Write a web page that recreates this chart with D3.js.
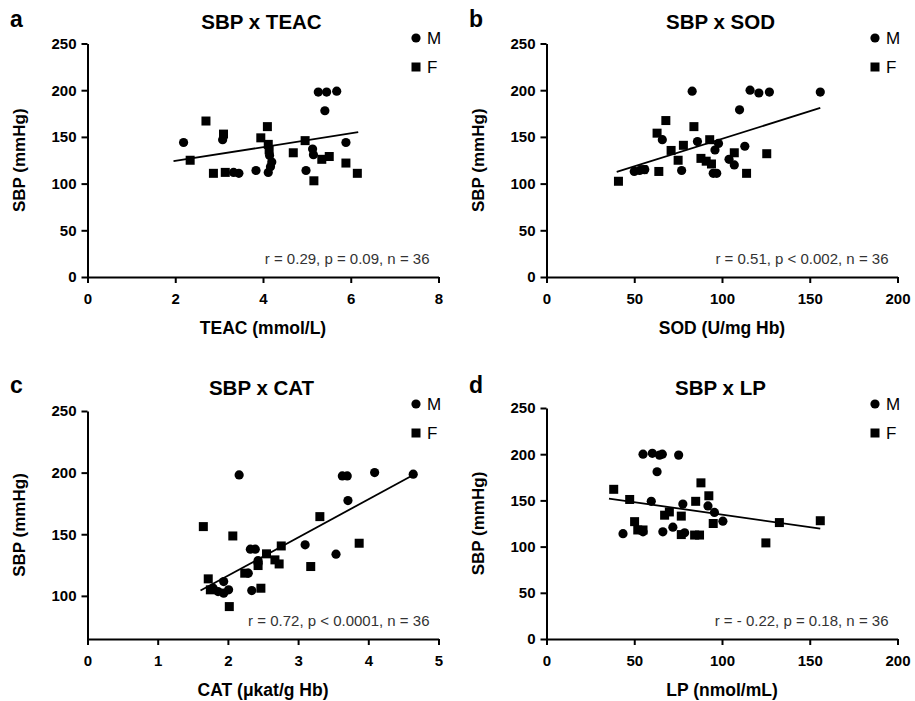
<!DOCTYPE html>
<html><head><meta charset="utf-8">
<script src="https://cdn.jsdelivr.net/npm/d3@7"></script>
<style>
html,body{margin:0;padding:0;background:#fff;}
svg{display:block;font-family:"Liberation Sans",Arial,Helvetica,sans-serif;}
</style></head>
<body><svg id="chart" width="915" height="701"></svg>
<script>
// ---- Data ----
const teacMale = [[2.19,144],[3.08,147],[3.33,112],[3.45,111],[3.84,114],[4.12,112],[4.17,118],[4.2,123],[4.15,130],[4.98,114],[5.13,137],[5.15,131],[5.26,198],[5.45,198],[5.68,199],[5.41,178],[5.89,144]];
const teacFemale = [[2.34,125],[2.7,167],[2.87,111],[3.14,112],[3.1,153],[3.95,149],[4.1,161],[4.12,142],[4.14,136],[4.69,133],[4.96,146],[5.16,103],[5.34,126],[5.51,129],[5.89,122],[6.15,111]];
const teacFit = [[1.96,124],[6.17,155]];

const sodMale = [[50,113],[53,114],[56,115],[66,147],[77,114],[83,199],[86,145],[95,111],[97,111],[96,136],[98,143],[104,126],[107,120],[110,179],[113,140],[116,200],[121,197],[127,198],[156,198]];
const sodFemale = [[41,102.5],[55,115],[64,113],[68,167.5],[63,154],[71,135.5],[75,125],[78,141],[84,161],[93,147],[88,127],[91,124],[94,121],[107,133],[114,111],[125.5,132]];
const sodFit = [[40,112.5],[156,181]];

const catMale = [[2.16,198.1],[3.63,197.3],[3.70,197.3],[4.09,200],[4.64,198.7],[3.71,177.3],[3.10,141.4],[3.54,133.8],[2.32,137.9],[2.39,137.9],[2.43,128.6],[2.34,104.3],[2.29,118.4],[1.79,106.2],[1.86,103.5],[1.94,102.2],[2.01,104.9],[1.94,111.6],[2.43,126.5]];
const catFemale = [[1.65,156.2],[2.07,148.6],[3.31,164.3],[3.87,142.7],[2.76,140.5],[3.18,123.8],[2.55,134.1],[2.67,129.2],[2.73,125.9],[2.43,124.6],[2.24,118.4],[1.72,113.8],[2.47,106.2],[2.02,91.3],[1.75,104.9]];
const catFit = [[1.61,104.3],[4.64,198.1]];

const lpMale = [[55,200],[60.3,201],[64.4,199],[66,200],[75.3,199],[63,181],[59.7,149],[77.7,146],[92,144],[95.7,137],[100.5,127.5],[43.6,114],[55,116],[66.3,116],[72,121],[78.7,115]];
const lpFemale = [[38.3,162],[47.4,151],[88,169],[92.5,155],[85,149],[67.3,134],[70,137.5],[76.8,133],[95,125],[50.2,127],[52,118],[55,118],[76.8,113],[84.4,112.5],[87.2,112.5],[132.7,126],[125,104],[156,128]];
const lpFit = [[35.6,152],[156,119.5]];

const panelLetters = ["a","b","c","d"];
const panelTitles = ["SBP x TEAC","SBP x SOD","SBP x CAT","SBP x LP"];
const xLabels = ["TEAC (mmol/L)","SOD (U/mg Hb)","CAT (\u03bckat/g Hb)","LP (nmol/mL)"];
const yLabel = "SBP (mmHg)";
const statTexts = ["r = 0.29, p = 0.09, n = 36","r = 0.51, p < 0.002, n = 36","r = 0.72, p < 0.0001, n = 36","r = - 0.22, p = 0.18, n = 36"];
const xTicksA = [0,2,4,6,8];
const xTicksB = [0,50,100,150,200];
const xTicksC = [0,1,2,3,4,5];
const xTicksD = [0,50,100,150,200];
const yTicksFull = [0,50,100,150,200,250];
const yTicksCat = [100,150,200,250];
const legendLabels = ["M","F"];

// ---- Layout ----
const svg = d3.select("#chart");
const panels = [
  {male:teacMale,female:teacFemale,fit:teacFit,xd:[0,8],xt:xTicksA,yd:[0,250],yt:yTicksFull,x0:87.5,x1:438.5,yTop:43.5,yBot:277,ox:0,oy:0},
  {male:sodMale,female:sodFemale,fit:sodFit,xd:[0,200],xt:xTicksB,yd:[0,250],yt:yTicksFull,x0:546.5,x1:897.5,yTop:43.5,yBot:277,ox:459,oy:0},
  {male:catMale,female:catFemale,fit:catFit,xd:[0,5],xt:xTicksC,yd:[65,250],yt:yTicksCat,x0:87.5,x1:438.5,yTop:411,yBot:639,ox:0,oy:366},
  {male:lpMale,female:lpFemale,fit:lpFit,xd:[0,200],xt:xTicksD,yd:[0,250],yt:yTicksFull,x0:546.5,x1:897.5,yTop:408,yBot:639,ox:459,oy:366}
];

panels.forEach((p,i)=>{
  const x = d3.scaleLinear().domain(p.xd).range([p.x0,p.x1]);
  const y = d3.scaleLinear().domain(p.yd).range([p.yBot,p.yTop]);
  const g = svg.append("g");

  // axes
  const xa = g.append("g").attr("transform",`translate(0,${p.yBot})`)
    .call(d3.axisBottom(x).tickValues(p.xt).tickFormat(d3.format("d")).tickSize(6).tickSizeOuter(0).tickPadding(5));
  const ya = g.append("g").attr("transform",`translate(${p.x0},0)`)
    .call(d3.axisLeft(y).tickValues(p.yt).tickFormat(d3.format("d")).tickSize(6).tickSizeOuter(0).tickPadding(5));
  [xa,ya].forEach(a=>{
    a.select(".domain").attr("stroke","#000").attr("stroke-width",2);
    a.selectAll(".tick line").attr("stroke","#000").attr("stroke-width",2);
    a.selectAll(".tick text").attr("fill","#000").attr("font-size",15).attr("font-weight","bold")
      .attr("font-family","Liberation Sans, Arial, sans-serif");
  });
  xa.selectAll(".tick text").attr("dy","1.05em");

  // fit line
  g.append("line")
    .attr("x1",x(p.fit[0][0])).attr("y1",y(p.fit[0][1]))
    .attr("x2",x(p.fit[1][0])).attr("y2",y(p.fit[1][1]))
    .attr("stroke","#000").attr("stroke-width",1.8);

  // points
  g.selectAll("circle.m").data(p.male).join("circle").attr("class","m")
    .attr("cx",d=>x(d[0])).attr("cy",d=>y(d[1])).attr("r",4.6).attr("fill","#000");
  g.selectAll("rect.f").data(p.female).join("rect").attr("class","f")
    .attr("x",d=>x(d[0])-4.5).attr("y",d=>y(d[1])-4.5).attr("width",9).attr("height",9).attr("fill","#000");

  // panel letter
  g.append("text").attr("x",10+p.ox).attr("y",27+p.oy).attr("font-size",23).attr("font-weight","bold").text(panelLetters[i]);
  // title
  g.append("text").attr("x",(p.x0+p.x1)/2-1.5).attr("y",29+p.oy).attr("text-anchor","middle")
    .attr("font-size",20.5).attr("font-weight","bold").text(panelTitles[i]);
  // legend
  g.append("circle").attr("cx",416+p.ox).attr("cy",38+p.oy).attr("r",4.6).attr("fill","#000");
  g.append("text").attr("x",427+p.ox).attr("y",44+p.oy).attr("font-size",17).text(legendLabels[0]);
  g.append("rect").attr("x",411.5+p.ox).attr("y",62.5+p.oy).attr("width",9).attr("height",9).attr("fill","#000");
  g.append("text").attr("x",427+p.ox).attr("y",73+p.oy).attr("font-size",17).text(legendLabels[1]);
  // stats
  g.append("text").attr("x",p.x1-9).attr("y",p.yBot-13).attr("text-anchor","end")
    .attr("font-size",15).attr("fill","#333").text(statTexts[i]);
  // x label
  g.append("text").attr("x",(p.x0+p.x1)/2).attr("y",p.yBot+57).attr("text-anchor","middle")
    .attr("font-size",17.5).attr("font-weight","bold").text(xLabels[i]);
  // y label
  g.append("text").attr("transform",`translate(${p.ox+25},${(p.yTop+p.yBot)/2}) rotate(-90)`)
    .attr("text-anchor","middle").attr("font-size",17).attr("font-weight","bold").text(yLabel);
});
</script>
</body></html>
